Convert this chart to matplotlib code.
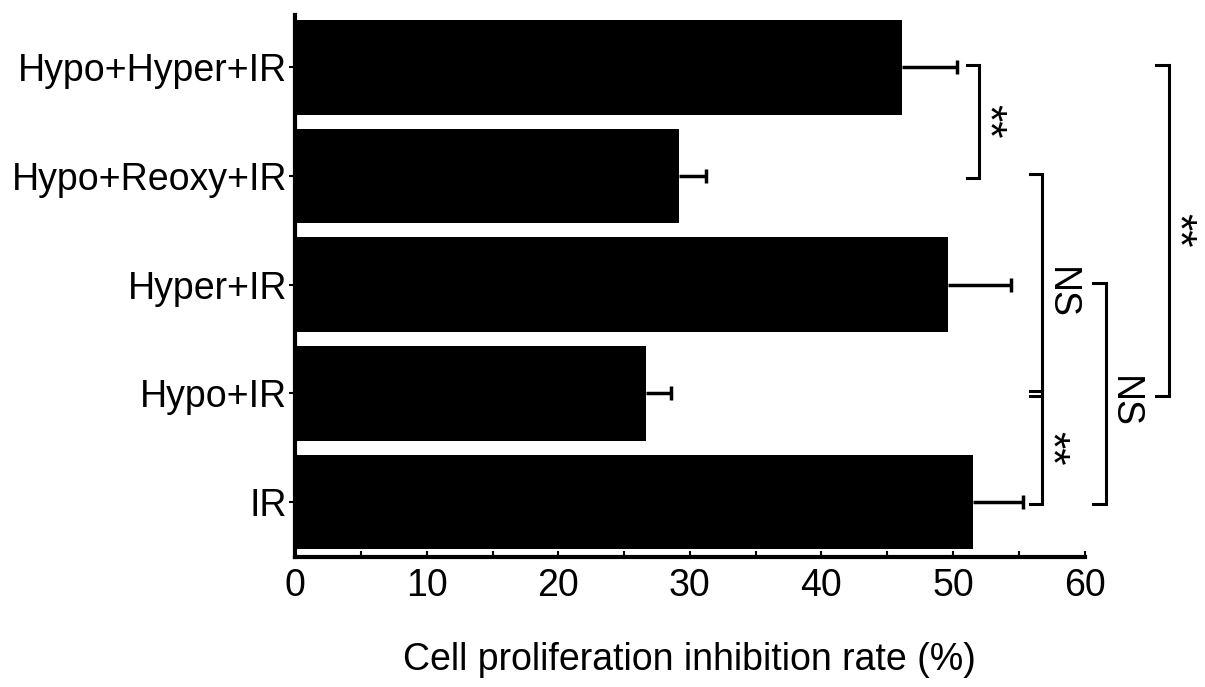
import numpy as np
import matplotlib
matplotlib.use("Agg")
import matplotlib.pyplot as plt

plt.rcParams['font.family'] = ['Liberation Sans', 'DejaVu Sans']

# groups from bottom to top
groups = ["IR", "Hypo+IR", "Hyper+IR", "Hypo+Reoxy+IR", "Hypo+Hyper+IR"]
means = [51.5, 26.7, 49.6, 29.2, 46.1]
errs = [3.8, 1.9, 4.8, 2.0, 4.2]

# significance brackets: (lower bar index, upper bar index, x position, label)
brackets = [
    (3, 4, 52.0, "**"),
    (1, 3, 56.8, "NS"),
    (0, 1, 56.8, "**"),
    (0, 2, 61.6, "NS"),
    (1, 4, 66.4, "**"),
]

fig = plt.figure(figsize=(12.05, 6.87), dpi=100)
ax = fig.add_axes([0.245, 0.189, 0.655, 0.789])

y = np.arange(len(groups))
ax.barh(y, means, height=0.87, color="black", zorder=2)
eb = ax.errorbar(means, y, xerr=[np.zeros(len(errs)), errs], fmt="none",
                 ecolor="black", elinewidth=2.5, capsize=5, capthick=2.5, zorder=1)
eb[1][0].set_visible(False)  # hide the cap sitting at the bar end

ax.set_xlim(0, 60)
ax.set_ylim(-0.506, 4.48)
ax.set_xticks(np.arange(0, 61, 10))
ax.set_xticks(np.arange(0, 61, 5), minor=True)
ax.set_yticks(y)
ax.set_yticklabels(groups, fontsize=27)
ax.tick_params(axis="x", which="both", direction="in", length=4, width=1.5,
               labelsize=27, pad=8)
ax.tick_params(axis="y", direction="out", length=4, width=1.5, pad=2)
for side in ["top", "right"]:
    ax.spines[side].set_visible(False)
for side in ["left", "bottom"]:
    ax.spines[side].set_linewidth(3)
ax.set_xlabel("Cell proliferation inhibition rate (%)", fontsize=27, labelpad=27)

# brackets drawn beyond the axis limits
tick = 0.95
for lo, hi, xb, label in brackets:
    ax.plot([xb - tick, xb, xb, xb - tick], [lo - 0.02, lo - 0.02, hi + 0.02, hi + 0.02],
            color="black", lw=2.2, clip_on=False, solid_joinstyle="miter")
    ym = (lo + hi) / 2
    if label == "NS":
        ax.text(xb + 0.05, ym - 0.08, label, rotation=-90, ha="left", va="center",
                fontsize=27, clip_on=False)
    else:
        ax.text(xb - 1.0, ym, label, rotation=-90, ha="left", va="center",
                fontsize=32, clip_on=False)

fig.savefig("out.png", dpi=100)
